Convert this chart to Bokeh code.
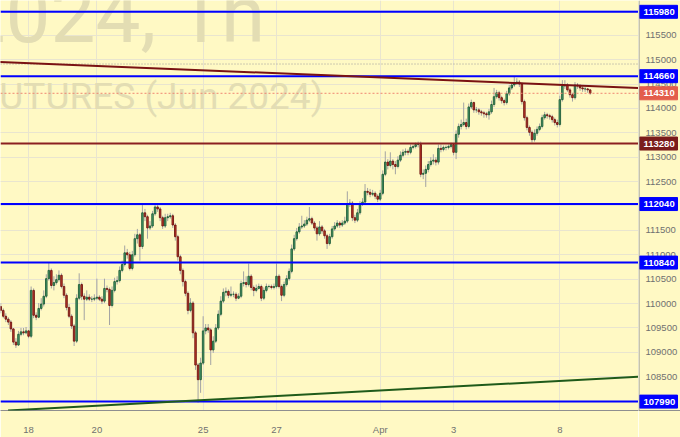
from bokeh.plotting import figure
from bokeh.layouts import row
from bokeh.models import (ColumnDataSource, Span, Slope, FixedTicker, Range1d, Grid)
from bokeh.embed import file_html
from bokeh.resources import INLINE
from bokeh.core.properties import value

# ---------------- data (hourly candles, RTS futures Jun 2024) ----------------
first_open = 109940
closes = [
    109860, 109740, 109680, 109620, 109480, 109210, 109150, 109370, 109420, 109400,
    109440, 109330, 110270, 109760, 109720, 109900, 109990, 110150, 110510, 110680,
    110370, 110430, 110490, 110580, 110350, 110170, 109920, 109740, 109540, 109230,
    110110, 110390, 110150, 110090, 110130, 110090, 110090, 110110, 110130, 110090,
    110050, 110310, 110290, 109960, 110270, 110450, 110470, 110680, 110800, 111040,
    111000, 110720, 111000, 111330, 111410, 111170, 111860, 111780, 111550, 111590,
    111840, 111980, 111940, 111760, 111590, 111760, 111780, 111800, 111610, 111370,
    110960, 110680, 110450, 110210, 109860, 110010, 109400, 108740, 108440, 108780,
    109440, 109500, 109460, 109050, 109230, 109500, 109780, 110050, 110230, 110250,
    110170, 110190, 110190, 110110, 110150, 110410, 110430, 110390, 110560, 110330,
    110270, 110310, 110350, 110110, 110270, 110350, 110350, 110330, 110350, 110560,
    110350, 110170, 110390, 110510, 110660, 111120, 111330, 111470, 111570, 111590,
    111630, 111710, 111740, 111650, 111550, 111430, 111570, 111490, 111390, 111230,
    111370, 111530, 111590, 111650, 111610, 111650, 111690, 112040, 112060, 111760,
    111710, 111860, 112040, 112080, 112300, 112280, 112240, 112260, 112200, 112140,
    112260, 112650, 112900, 112830, 112920, 112850, 112810, 112940, 113040, 113100,
    113120, 113100, 113200, 113220, 113260, 113260, 112650, 112670, 112750, 112850,
    112920, 112940, 112900, 113180, 113160, 113200, 113200, 113220, 113260, 113100,
    113470, 113630, 113670, 113710, 113630, 114030, 114120, 113970, 113970, 113930,
    113910, 113890, 113870, 113930, 114080, 114240, 114320, 114220, 114160, 114120,
    114300, 114420, 114480, 114520, 114540, 114500, 114140, 113810, 113610, 113510,
    113360, 113490, 113570, 113630, 113810, 113870, 113850, 113830, 113770, 113710,
    113670, 114180, 114460, 114480, 114380, 114280, 114220, 114480, 114460, 114420,
    114400, 114400, 114380, 114310]
highs = [
    110010, 109900, 109800, 109720, 109660, 109500, 109290, 109440, 109500, 109500,
    109520, 109460, 110350, 110310, 109820, 110010, 110110, 110270, 110600, 110840,
    110720, 110560, 110600, 110680, 110620, 110410, 110210, 109990, 109780, 109580,
    110190, 110620, 110430, 110210, 110270, 110190, 110150, 110190, 110510, 110170,
    110150, 110510, 110370, 110330, 110350, 110530, 110560, 110760, 110880, 111190,
    111120, 111060, 111080, 111430, 111530, 111450, 112040, 111940, 111820, 111690,
    111900, 112040, 112040, 111980, 111800, 111840, 111840, 111860, 111840, 111650,
    111410, 111000, 110720, 110490, 110250, 110110, 110050, 109440, 108780, 108890,
    109740, 109580, 109580, 109500, 109330, 109580, 109860, 110150, 110310, 110330,
    110290, 110350, 110250, 110230, 110210, 110470, 110660, 110560, 110820, 110600,
    110370, 110390, 110410, 110390, 110330, 110410, 110390, 110390, 110410, 110820,
    110600, 110390, 110450, 110580, 110720, 111210, 111410, 111550, 111650, 111800,
    111710, 111780, 111980, 111780, 111690, 111590, 111690, 111610, 111530, 111430,
    111430, 111590, 111670, 111710, 111690, 111710, 111780, 112300, 112140, 112100,
    111820, 111940, 112100, 112160, 112450, 112370, 112350, 112330, 112300, 112240,
    112330, 112730, 113120, 112960, 113100, 112960, 112920, 113020, 113120, 113160,
    113180, 113160, 113260, 113260, 113300, 113320, 113320, 112750, 112830, 112920,
    113000, 113060, 113000, 113260, 113260, 113240, 113240, 113260, 113300, 113280,
    113550, 113690, 113770, 114120, 113790, 114100, 114180, 114140, 114030, 114010,
    113970, 113950, 113930, 113990, 114160, 114420, 114380, 114360, 114260, 114200,
    114360, 114480, 114540, 114650, 114620, 114580, 114540, 114180, 113850, 113650,
    113550, 113570, 113630, 113690, 113870, 113930, 113910, 113890, 113870, 113810,
    113770, 114260, 114580, 114580, 114520, 114420, 114320, 114540, 114520, 114500,
    114460, 114440, 114420, 114400]
lows = [
    109800, 109700, 109620, 109560, 109420, 109150, 109090, 109130, 109330, 109350,
    109370, 109290, 109290, 109700, 109660, 109700, 109860, 109940, 110110, 110470,
    110310, 110270, 110390, 110450, 110310, 110110, 109860, 109700, 109480, 109130,
    109190, 110070, 110070, 109660, 110050, 110050, 110030, 110050, 110070, 110050,
    109990, 110010, 110230, 109560, 109920, 110230, 110390, 110430, 110640, 110760,
    110920, 110680, 110680, 110960, 111230, 110880, 111120, 111690, 111330, 111510,
    111550, 111800, 111880, 111690, 111530, 111550, 111690, 111740, 111550, 111290,
    110880, 110600, 110350, 110150, 109780, 109820, 109290, 108640, 107970, 108170,
    108740, 109370, 109400, 108740, 108990, 109190, 109460, 109740, 110010, 110150,
    110110, 110130, 110130, 110050, 110090, 110110, 110350, 110330, 110350, 110270,
    110150, 110230, 110290, 110050, 110070, 110230, 110310, 110290, 110290, 110310,
    110310, 110050, 110130, 110350, 110470, 110620, 111080, 111290, 111430, 111530,
    111550, 111590, 111670, 111610, 111490, 111290, 111390, 111430, 111330, 111120,
    111190, 111330, 111490, 111550, 111550, 111570, 111610, 111650, 111980, 111690,
    111650, 111670, 111820, 112000, 112040, 112220, 112180, 112200, 112140, 112080,
    112100, 112220, 112610, 112750, 112790, 112750, 112650, 112770, 112900, 113000,
    113040, 113040, 113060, 113160, 113180, 113200, 112590, 112550, 112390, 112690,
    112810, 112850, 112830, 112850, 113100, 113120, 113140, 113160, 113180, 113040,
    112960, 113400, 113570, 113630, 113570, 113590, 113990, 113910, 113910, 113870,
    113850, 113810, 113810, 113770, 113890, 114030, 114200, 114160, 114100, 114060,
    114080, 114260, 114380, 114440, 114480, 114440, 114080, 113750, 113550, 113440,
    113300, 113320, 113440, 113530, 113590, 113770, 113790, 113770, 113710, 113650,
    113610, 113630, 114140, 114400, 114340, 114220, 114140, 114180, 114400, 114360,
    114340, 114340, 114320, 114280]

day_ticks = [11, 38, 80, 109, 150, 179, 221]
day_labels = ["18", "20", "25", "27", "Apr", "3", "8"]
price_ticks = [108000, 108500, 109000, 109500, 110000, 110500, 111000, 111500,
               112000, 112500, 113000, 113500, 114000, 114500, 115000, 115500, 116000]

blue_levels = [115980, 114660, 112040, 110840, 107990]
maroon_level = 113280
last_price = 114310
dotted_level = 114910

res_idx, res_price = [0, 252], [114950, 114420]      # falling maroon trendline
sup_idx, sup_price = [0, 252], [107800, 108500]      # rising green trendline

wm_line1 = "RIM2024, 1h"
wm_line2 = "RTS FUTURES (Jun 2024)"

# ---------------- build ----------------
BG = "#fff9c4"
FONT = "Liberation Sans"
AXIS_GRAY = "#8f8f8f"
LABEL_GRAY = "#707070"
Y_RANGE = Range1d(107808, 116212)

opens = [first_open] + closes[:-1]
idx = list(range(len(closes)))
up = [c >= o for o, c in zip(opens, closes)]
src = ColumnDataSource(dict(
    i=idx, high=highs, low=lows,
    top=[max(o, c) for o, c in zip(opens, closes)],
    bottom=[min(o, c) for o, c in zip(opens, closes)],
    fill=["#4a9e6e" if u else "#c43a2c" for u in up],
    edge=["#1f5c38" if u else "#6e1410" for u in up],
))

p = figure(width=638, height=437, x_range=Range1d(-0.1, 252.1), y_range=Y_RANGE,
           output_backend="svg", toolbar_location=None, y_axis_location=None,
           background_fill_color=BG, border_fill_color=BG,
           min_border_left=0, min_border_top=0, min_border_right=0,
           min_border_bottom=24)
p.outline_line_color = None

# watermark (drawn first, below everything)
p.text(x=[104.5], y=[115917], text=[wm_line1], text_font=value("Roboto"),
       text_font_size="80px", text_align="right", text_baseline="middle",
       text_color="#e3ddb3")
p.text(x=[127.6], y=[114248], text=[wm_line2], text_font=value("Roboto"),
       text_font_size="37px", text_align="right", text_baseline="middle",
       text_color="#e3ddb3")

# grids
p.add_layout(Grid(dimension=1, ticker=FixedTicker(ticks=price_ticks)))
p.xgrid.ticker = FixedTicker(ticks=day_ticks)
p.ygrid.ticker = FixedTicker(ticks=price_ticks)
p.grid.grid_line_color = "#e9e5cf"
p.grid.grid_line_width = 1

# time axis
p.xaxis.ticker = FixedTicker(ticks=day_ticks)
p.xaxis.major_label_overrides = dict(zip(day_ticks, day_labels))
p.xaxis.axis_line_color = AXIS_GRAY
p.xaxis.major_tick_line_color = None
p.xaxis.minor_tick_line_color = None
p.xaxis.major_label_text_color = LABEL_GRAY
p.xaxis.major_label_text_font = FONT
p.xaxis.major_label_text_font_size = "9.5px"
p.xaxis.major_label_standoff = 7

# candles
p.segment(x0="i", y0="low", x1="i", y1="high", source=src,
          line_color="#a3a3a3", line_width=1)
p.vbar(x="i", width=0.6, top="top", bottom="bottom", source=src,
       fill_color="fill", line_color="edge", line_width=0.9)

# levels
p.add_layout(Span(location=dotted_level, dimension="width", line_color="#9a9a9a",
                  line_width=1, line_dash="1 2"))
p.add_layout(Span(location=last_price, dimension="width", line_color="#ef8571",
                  line_width=1, line_dash="2 2"))
for lv in blue_levels:
    p.add_layout(Span(location=lv, dimension="width", line_color="#0000ff", line_width=2))
p.add_layout(Span(location=maroon_level, dimension="width", line_color="#8b2020", line_width=2))

g_res = (res_price[1] - res_price[0]) / (res_idx[1] - res_idx[0])
p.add_layout(Slope(gradient=g_res, y_intercept=res_price[0] - g_res * res_idx[0],
                   line_color="#7a1212", line_width=2))
g_sup = (sup_price[1] - sup_price[0]) / (sup_idx[1] - sup_idx[0])
p.add_layout(Slope(gradient=g_sup, y_intercept=sup_price[0] - g_sup * sup_idx[0],
                   line_color="#1f5a1a", line_width=2))

# ---------------- price scale (right strip) ----------------
s = figure(width=42, height=437, x_range=Range1d(0, 42), y_range=Y_RANGE,
           output_backend="svg", toolbar_location=None, y_axis_location=None,
           background_fill_color=BG, border_fill_color=BG,
           min_border_left=0, min_border_top=0, min_border_right=0,
           min_border_bottom=24)
s.outline_line_color = None
s.grid.visible = False
s.xaxis.ticker = FixedTicker(ticks=[])
s.xaxis.axis_line_color = AXIS_GRAY
s.xaxis.major_tick_line_color = None
s.xaxis.minor_tick_line_color = None
s.xaxis.major_label_text_color = None

s.add_layout(Span(location=0.5, dimension="height", line_color=AXIS_GRAY, line_width=1))

s.text(x=[7] * len(price_ticks), y=price_ticks, text=[str(t) for t in price_ticks],
       text_font=value(FONT), text_font_size="9.5px", text_align="left",
       text_baseline="middle", text_color=LABEL_GRAY)

tag_prices = blue_levels + [maroon_level, last_price]
tag_colors = ["#0000ff"] * len(blue_levels) + ["#7a1c1c", "#e35d4c"]
tsrc = ColumnDataSource(dict(y=tag_prices, c=tag_colors, t=[str(v) for v in tag_prices],
                             x=[20] * len(tag_prices), tx=[5] * len(tag_prices)))
s.rect(x="x", y="y", width=38, height=13, height_units="screen", source=tsrc,
       fill_color="c", line_color="c")
s.text(x="tx", y="y", text="t", source=tsrc, text_font=value(FONT),
       text_font_size="9.5px", text_font_style="bold", text_align="left",
       text_baseline="middle", text_color="white")

layout = row(p, s)
open("out.html", "w").write(file_html(layout, INLINE))
